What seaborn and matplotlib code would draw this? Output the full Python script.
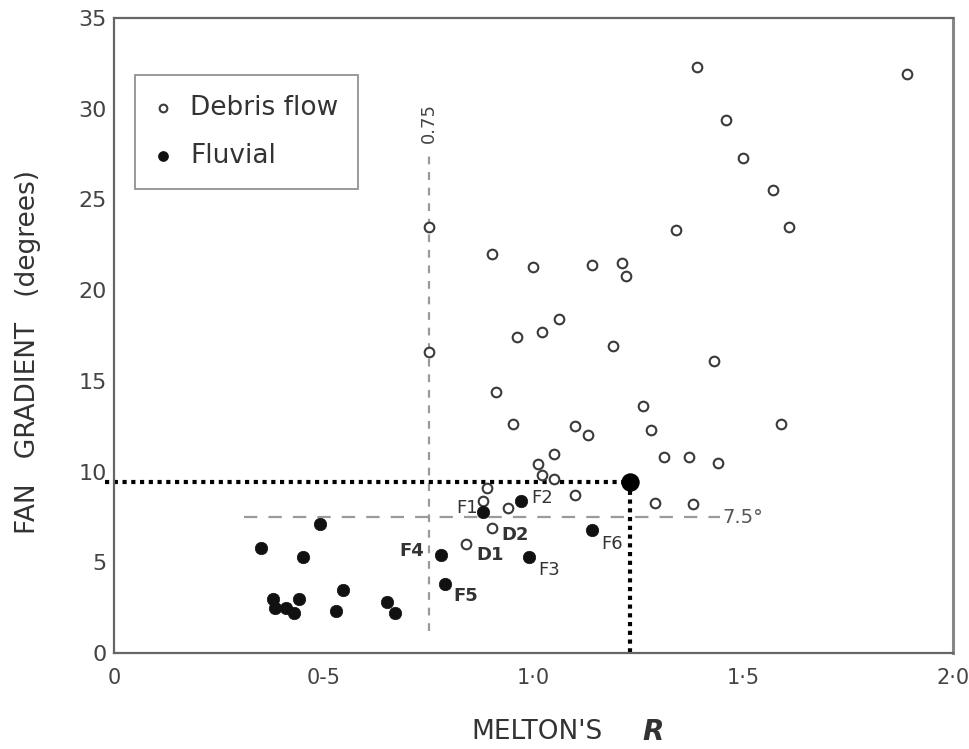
"""Fan gradient vs Melton's R scatter (debris flow vs fluvial fans)."""

import matplotlib
matplotlib.use("Agg")
import matplotlib.pyplot as plt
import numpy as np
import pandas as pd
import seaborn as sns
from matplotlib.ticker import FixedLocator, MultipleLocator


# --- data ---------------------------------------------------------------
debris_r = [1.39, 1.89, 1.46, 1.50, 1.57, 1.61, 1.34, 0.75, 0.75, 0.90,
            1.00, 1.14, 1.21, 1.22, 0.96, 1.02, 1.06, 1.19, 1.43, 0.91,
            1.26, 0.95, 1.10, 1.28, 1.13, 1.59, 1.31, 1.37, 1.44, 1.05,
            1.01, 1.02, 1.05, 1.10, 1.29, 1.38, 0.89, 0.88, 0.94, 0.90,
            0.84]
debris_g = [32.3, 31.9, 29.4, 27.3, 25.5, 23.5, 23.3, 23.5, 16.6, 22.0,
            21.3, 21.4, 21.5, 20.8, 17.4, 17.7, 18.4, 16.9, 16.1, 14.4,
            13.6, 12.6, 12.5, 12.3, 12.0, 12.6, 10.8, 10.8, 10.5, 11.0,
            10.4, 9.8, 9.6, 8.7, 8.3, 8.2, 9.1, 8.4, 8.0, 6.9,
            6.0]
debris_lab = [""] * 39 + ["D2", "D1"]

fluvial_r = [0.88, 0.97, 0.78, 0.79, 0.99, 1.14, 0.49, 0.35, 0.45, 0.545,
             0.38, 0.44, 0.385, 0.41, 0.43, 0.53, 0.65, 0.67]
fluvial_g = [7.8, 8.4, 5.4, 3.8, 5.3, 6.8, 7.1, 5.8, 5.3, 3.5,
             3.0, 3.0, 2.5, 2.5, 2.2, 2.3, 2.8, 2.2]
fluvial_lab = ["F1", "F2", "F4", "F5", "F3", "F6"] + [""] * 12

# thresholds and highlighted fan
R_THRESHOLD = 0.75
G_THRESHOLD = 7.5
MARK_R, MARK_G = 1.23, 9.45

x_ticks = [0, 0.5, 1.0, 1.5, 2.0]
x_ticklabels = ["0", "0-5", "1\u00b70", "1\u00b75", "2\u00b70"]
y_ticks = [0, 5, 10, 15, 20, 25, 30, 35]

# label placement (pixels from the point) and weights
LABEL_STYLE = {
    "F1": ((-5, 4), "right", "normal"),
    "F2": ((10, 3), "left", "normal"),
    "D2": ((10, -7), "left", "bold"),
    "D1": ((10, -11), "left", "bold"),
    "F4": ((-17, 4), "right", "bold"),
    "F5": ((8, -12), "left", "bold"),
    "F3": ((9, -13), "left", "normal"),
    "F6": ((9, -14), "left", "normal"),
}

sns.set_theme(style="white")
plt.rcParams.update({
    "font.family": ["DejaVu Sans"],
    "text.color": "#333333",
    "axes.labelcolor": "#333333",
    "xtick.color": "#444444",
    "ytick.color": "#444444",
})

debris = pd.DataFrame({"R": debris_r, "G": debris_g, "label": debris_lab})
fluvial = pd.DataFrame({"R": fluvial_r, "G": fluvial_g, "label": fluvial_lab})

fig = plt.figure(figsize=(9.69, 7.49), dpi=100)
ax = fig.add_axes([0.1176, 0.128, 0.8659, 0.848])

# reference lines
ax.plot([R_THRESHOLD, R_THRESHOLD], [1.2, 27.6], color="#9a9a9a", lw=1.6,
        dashes=(3.5, 3.5), zorder=1)
ax.plot([0.31, 1.445], [G_THRESHOLD, G_THRESHOLD], color="#9a9a9a", lw=1.6,
        dashes=(6, 5), zorder=1)
ax.text(R_THRESHOLD, 29.2, "0.75", rotation=90, ha="center", va="center",
        fontsize=13, color="#444444")
ax.text(1.45, G_THRESHOLD, "7.5\u00b0", ha="left", va="center",
        fontsize=14, color="#555555")

# highlighted fan with dotted guides
ax.plot([-0.022, MARK_R], [MARK_G, MARK_G], color="black", lw=3,
        linestyle=(0, (1, 1.1)), clip_on=False, zorder=2)
ax.plot([MARK_R, MARK_R], [MARK_G, 0], color="black", lw=3,
        linestyle=(0, (1, 1.1)), zorder=2)

sns.scatterplot(data=debris, x="R", y="G", ax=ax, marker="o", s=48,
                color="white", edgecolor="#3a3a3a", linewidth=1.5,
                label="Debris flow", zorder=3)
sns.scatterplot(data=fluvial, x="R", y="G", ax=ax, marker="o", s=80,
                color="#111111", edgecolor="#111111", linewidth=0.5,
                label="Fluvial", zorder=4)
ax.scatter([MARK_R], [MARK_G], s=150, color="black", zorder=5)

for df in (debris, fluvial):
    for _, row in df[df["label"] != ""].iterrows():
        (dx, dy), ha, weight = LABEL_STYLE[row["label"]]
        ax.annotate(row["label"], (row["R"], row["G"]), xytext=(dx, dy),
                    textcoords="offset pixels", ha=ha, va="center",
                    fontsize=13, fontweight=weight, color="#333333")

# axes, ticks
ax.set_xlim(0, 2.0)
ax.set_ylim(0, 35)
ax.xaxis.set_major_locator(FixedLocator(x_ticks))
ax.set_xticklabels(x_ticklabels)
ax.xaxis.set_minor_locator(MultipleLocator(0.1))
ax.yaxis.set_major_locator(FixedLocator(y_ticks))
ax.yaxis.set_minor_locator(MultipleLocator(2.5))
ax.tick_params(axis="x", which="major", direction="in", length=11, width=1.5,
               pad=11, labelsize=15, top=False)
ax.tick_params(axis="x", which="minor", direction="in", length=6, width=1.3,
               top=False)
ax.tick_params(axis="y", which="major", direction="in", length=7, width=1.5,
               pad=5, labelsize=16, right=False)
ax.tick_params(axis="y", which="minor", direction="in", length=7, width=1.3,
               right=False)
for tick, val in zip(ax.yaxis.get_major_ticks(), y_ticks):
    if val in (10, 20, 30):
        tick.tick1line.set_markersize(12)

for side in ("left", "bottom", "top", "right"):
    ax.spines[side].set_visible(True)
    ax.spines[side].set_color("#666666")
    ax.spines[side].set_linewidth(1.6)
ax.spines["right"].set_linewidth(2.2)
ax.spines["right"].set_color("#888888")

ax.set_ylabel("FAN   GRADIENT   (degrees)", fontsize=19)
ax.yaxis.label.set_va("center")
ax.yaxis.set_label_coords(-0.1025, 0.474)
ax.set_xlabel("MELTON'S", fontsize=19)
ax.xaxis.label.set_va("center")
ax.xaxis.set_label_coords(0.504, -0.124)
ax.text(0.642, -0.124, "R", transform=ax.transAxes, fontsize=20,
        style="italic", fontweight="bold", ha="center", va="center",
        color="#333333")

leg = ax.legend(loc="upper left", bbox_to_anchor=(0.025, 0.91),
                borderaxespad=0, frameon=True, fancybox=False,
                fontsize=19, handlelength=0.6, handletextpad=0.75,
                labelspacing=0.85, borderpad=0.75, markerscale=0.8)
leg.get_frame().set_edgecolor("#777777")
leg.get_frame().set_linewidth(1.3)
for txt in leg.get_texts():
    txt.set_color("#333333")

fig.savefig("out.png", dpi=100)
